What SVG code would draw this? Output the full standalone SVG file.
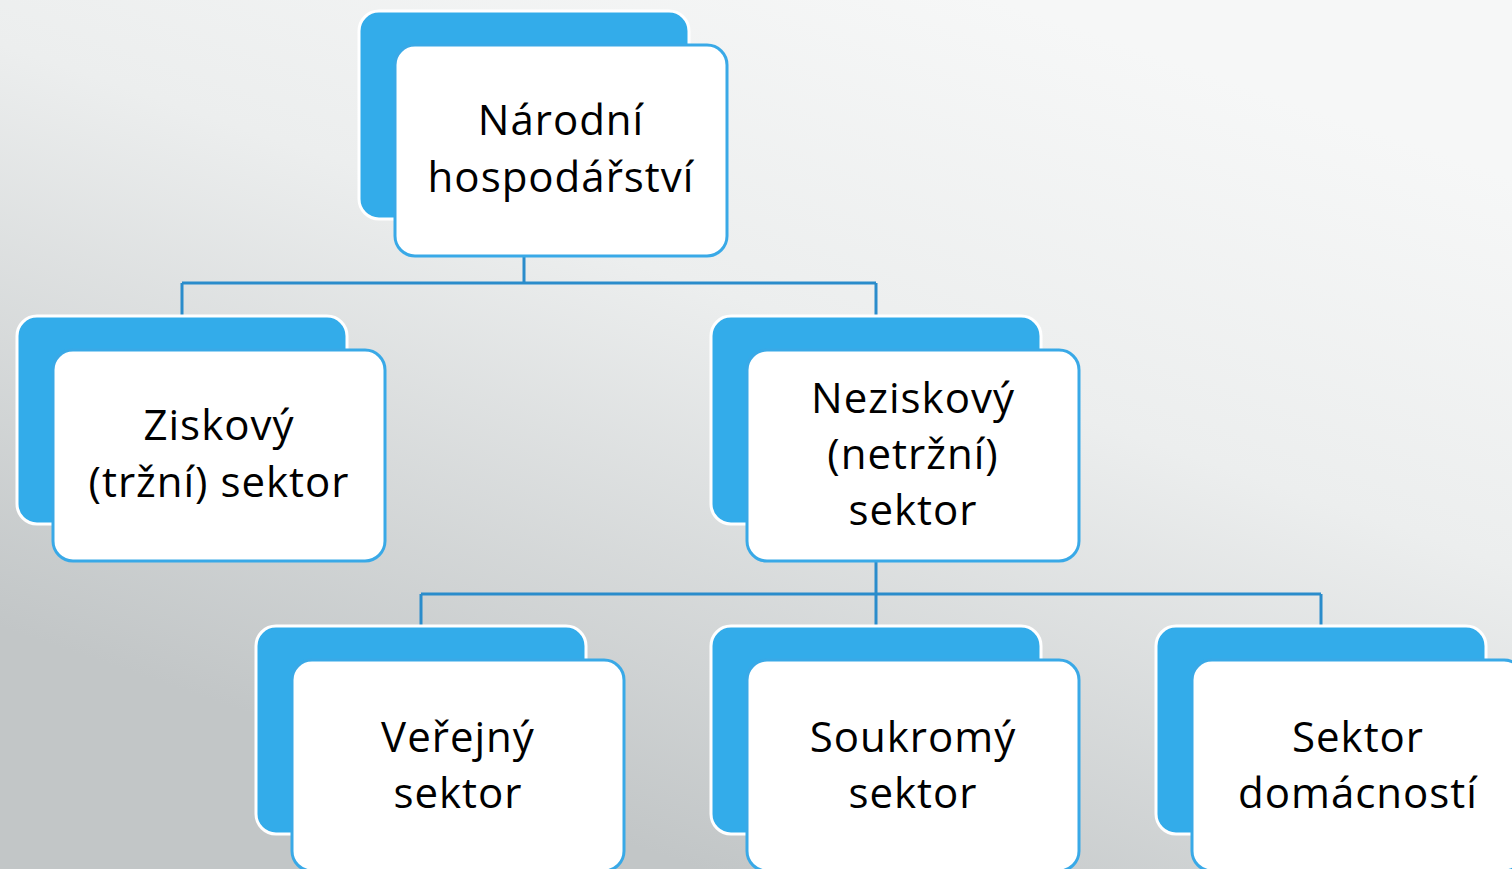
<svg xmlns="http://www.w3.org/2000/svg" width="1512" height="869" viewBox="0 0 1512 869">
<defs>
<linearGradient id="bg" gradientUnits="userSpaceOnUse" x1="1000" y1="0" x2="700" y2="869">
<stop offset="0" stop-color="#f6f7f7"/>
<stop offset="0.4" stop-color="#eceeee"/>
<stop offset="1" stop-color="#c2c6c7"/>
</linearGradient>
</defs>
<style>
.back{fill:#33acea;stroke:#ffffff;stroke-width:3}
.front{fill:#ffffff;stroke:#39a9e7;stroke-width:3}
.lbl{font-family:"Open Sans","Noto Sans",sans-serif;font-size:42px;letter-spacing:1px;fill:#000000;text-anchor:middle}
.conn{fill:none;stroke:#2a8ccb;stroke-width:3}
</style>
<rect width="1512" height="869" fill="url(#bg)"/>
<g id="connectors">
<path class="conn" d="M524 256V283M182 283H876M182 283V316M876 283V316"/>
<path class="conn" d="M876 561V594M421 594H1321M421 594V626M876 594V626M1321 594V626"/>
</g>
<g id="n1">
<rect class="back" x="359" y="11" width="330" height="208" rx="20"/>
<rect class="front" x="395" y="45" width="332" height="211" rx="20"/>
<text class="lbl" x="561" y="135">Národní</text>
<text class="lbl" x="561" y="192">hospodářství</text>
</g>
<g id="n2">
<rect class="back" x="17" y="316" width="330" height="208" rx="20"/>
<rect class="front" x="53" y="350" width="332" height="211" rx="20"/>
<text class="lbl" x="219" y="440">Ziskový</text>
<text class="lbl" x="219" y="497">(tržní) sektor</text>
</g>
<g id="n3">
<rect class="back" x="711" y="316" width="330" height="208" rx="20"/>
<rect class="front" x="747" y="350" width="332" height="211" rx="20"/>
<text class="lbl" x="913" y="413">Neziskový</text>
<text class="lbl" x="913" y="469">(netržní)</text>
<text class="lbl" x="913" y="525">sektor</text>
</g>
<g id="n4">
<rect class="back" x="256" y="626" width="330" height="208" rx="20"/>
<rect class="front" x="292" y="660" width="332" height="211" rx="20"/>
<text class="lbl" x="458" y="752">Veřejný</text>
<text class="lbl" x="458" y="808">sektor</text>
</g>
<g id="n5">
<rect class="back" x="711" y="626" width="330" height="208" rx="20"/>
<rect class="front" x="747" y="660" width="332" height="211" rx="20"/>
<text class="lbl" x="913" y="752">Soukromý</text>
<text class="lbl" x="913" y="808">sektor</text>
</g>
<g id="n6">
<rect class="back" x="1156" y="626" width="330" height="208" rx="20"/>
<rect class="front" x="1192" y="660" width="332" height="211" rx="20"/>
<text class="lbl" x="1358" y="752">Sektor</text>
<text class="lbl" x="1358" y="808">domácností</text>
</g>
</svg>
